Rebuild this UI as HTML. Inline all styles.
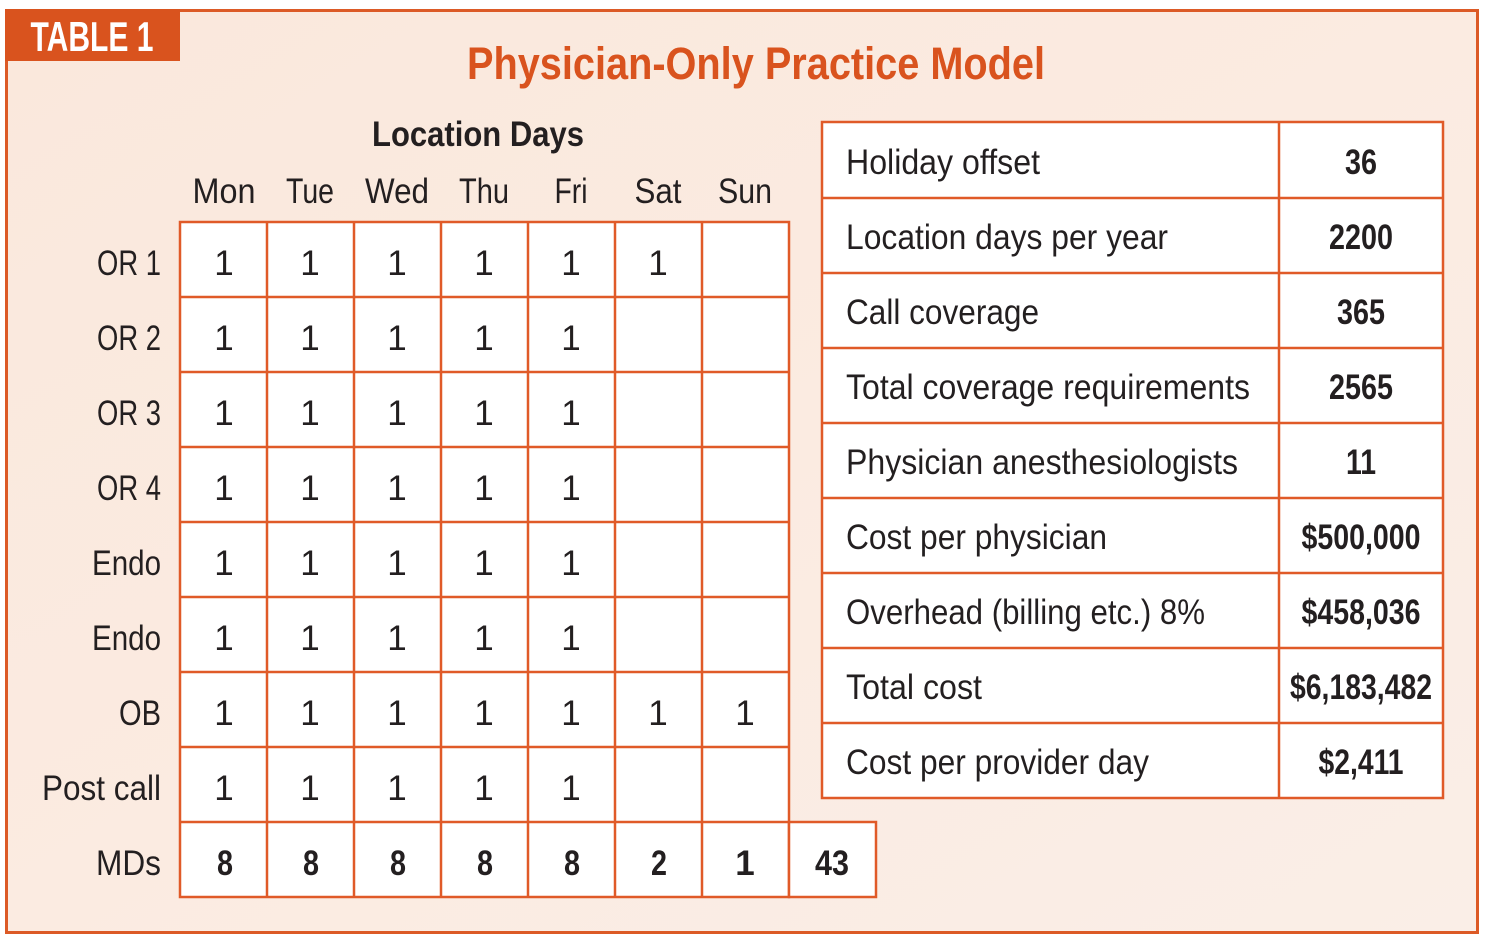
<!DOCTYPE html>
<html><head><meta charset="utf-8"><style>
html,body{margin:0;padding:0;background:#fff;}
svg{display:block;}
text{font-family:"Liberation Sans Narrow","Liberation Sans",sans-serif;fill:#231f20;}
.b{font-weight:bold;}
</style></head><body>
<svg width="1489" height="944" viewBox="0 0 1489 944" xmlns="http://www.w3.org/2000/svg">
<defs>
<linearGradient id="g" x1="0" y1="0" x2="1" y2="1">
<stop offset="0" stop-color="#fae8dc"/><stop offset="0.5" stop-color="#fbebe1"/><stop offset="1" stop-color="#faeee7"/>
</linearGradient>
</defs>
<rect x="0" y="0" width="1489" height="944" fill="#fff"/>
<rect x="6.5" y="10.5" width="1471" height="922" fill="url(#g)" stroke="#dc5a26" stroke-width="3"/>
<rect x="5" y="9" width="175" height="52" fill="#d9531e"/>
<text x="92" y="51" text-anchor="middle" class="b" font-size="42" style="fill:#fff" textLength="123" lengthAdjust="spacingAndGlyphs">TABLE 1</text>
<text x="756" y="79" text-anchor="middle" class="b" font-size="45" style="fill:#d9531e" textLength="578" lengthAdjust="spacingAndGlyphs">Physician-Only Practice Model</text>
<text x="478" y="146" text-anchor="middle" class="b" font-size="35" textLength="212" lengthAdjust="spacingAndGlyphs">Location Days</text>
<g font-size="35" text-anchor="middle">
<text x="224" y="203" textLength="63" lengthAdjust="spacingAndGlyphs">Mon</text><text x="310" y="203" textLength="48" lengthAdjust="spacingAndGlyphs">Tue</text><text x="397" y="203" textLength="64" lengthAdjust="spacingAndGlyphs">Wed</text><text x="484" y="203" textLength="50" lengthAdjust="spacingAndGlyphs">Thu</text><text x="571" y="203" textLength="33" lengthAdjust="spacingAndGlyphs">Fri</text><text x="658" y="203" textLength="47" lengthAdjust="spacingAndGlyphs">Sat</text><text x="745" y="203" textLength="54" lengthAdjust="spacingAndGlyphs">Sun</text>
</g>
<g fill="#fff" stroke="#e05a28" stroke-width="2.5">
<rect x="180" y="222" width="609" height="675"/>
<rect x="789" y="822" width="87" height="75"/>
<rect x="822" y="122" width="621" height="676"/>
</g>
<g stroke="#e05a28" stroke-width="2.5">
<line x1="267" y1="222" x2="267" y2="897"/><line x1="354" y1="222" x2="354" y2="897"/><line x1="441" y1="222" x2="441" y2="897"/><line x1="528" y1="222" x2="528" y2="897"/><line x1="615" y1="222" x2="615" y2="897"/><line x1="702" y1="222" x2="702" y2="897"/>
<line x1="180" y1="297" x2="789" y2="297"/><line x1="180" y1="372" x2="789" y2="372"/><line x1="180" y1="447" x2="789" y2="447"/><line x1="180" y1="522" x2="789" y2="522"/><line x1="180" y1="597" x2="789" y2="597"/><line x1="180" y1="672" x2="789" y2="672"/><line x1="180" y1="747" x2="789" y2="747"/><line x1="180" y1="822" x2="789" y2="822"/>
<line x1="1279" y1="122" x2="1279" y2="798"/>
<line x1="822" y1="198" x2="1443" y2="198"/><line x1="822" y1="273" x2="1443" y2="273"/><line x1="822" y1="348" x2="1443" y2="348"/><line x1="822" y1="423" x2="1443" y2="423"/><line x1="822" y1="498" x2="1443" y2="498"/><line x1="822" y1="573" x2="1443" y2="573"/><line x1="822" y1="648" x2="1443" y2="648"/><line x1="822" y1="723" x2="1443" y2="723"/>
</g>
<g font-size="35">
<text x="97" y="275" textLength="64" lengthAdjust="spacingAndGlyphs">OR 1</text>
<text x="97" y="350" textLength="64" lengthAdjust="spacingAndGlyphs">OR 2</text>
<text x="97" y="425" textLength="64" lengthAdjust="spacingAndGlyphs">OR 3</text>
<text x="97" y="500" textLength="64" lengthAdjust="spacingAndGlyphs">OR 4</text>
<text x="92" y="575" textLength="69" lengthAdjust="spacingAndGlyphs">Endo</text>
<text x="92" y="650" textLength="69" lengthAdjust="spacingAndGlyphs">Endo</text>
<text x="119" y="725" textLength="42" lengthAdjust="spacingAndGlyphs">OB</text>
<text x="42" y="800" textLength="119" lengthAdjust="spacingAndGlyphs">Post call</text>
<text x="96" y="875" textLength="65" lengthAdjust="spacingAndGlyphs">MDs</text>
</g>
<g font-size="35" text-anchor="middle">
<text x="224" y="275">1</text><text x="310" y="275">1</text><text x="397" y="275">1</text><text x="484" y="275">1</text><text x="571" y="275">1</text><text x="658" y="275">1</text>
<text x="224" y="350">1</text><text x="310" y="350">1</text><text x="397" y="350">1</text><text x="484" y="350">1</text><text x="571" y="350">1</text>
<text x="224" y="425">1</text><text x="310" y="425">1</text><text x="397" y="425">1</text><text x="484" y="425">1</text><text x="571" y="425">1</text>
<text x="224" y="500">1</text><text x="310" y="500">1</text><text x="397" y="500">1</text><text x="484" y="500">1</text><text x="571" y="500">1</text>
<text x="224" y="575">1</text><text x="310" y="575">1</text><text x="397" y="575">1</text><text x="484" y="575">1</text><text x="571" y="575">1</text>
<text x="224" y="650">1</text><text x="310" y="650">1</text><text x="397" y="650">1</text><text x="484" y="650">1</text><text x="571" y="650">1</text>
<text x="224" y="725">1</text><text x="310" y="725">1</text><text x="397" y="725">1</text><text x="484" y="725">1</text><text x="571" y="725">1</text><text x="658" y="725">1</text><text x="745" y="725">1</text>
<text x="224" y="800">1</text><text x="310" y="800">1</text><text x="397" y="800">1</text><text x="484" y="800">1</text><text x="571" y="800">1</text>
</g>
<g font-size="35" text-anchor="middle" class="b">
<text x="225" y="875" textLength="16" lengthAdjust="spacingAndGlyphs">8</text><text x="311" y="875" textLength="16" lengthAdjust="spacingAndGlyphs">8</text><text x="398" y="875" textLength="16" lengthAdjust="spacingAndGlyphs">8</text><text x="485" y="875" textLength="16" lengthAdjust="spacingAndGlyphs">8</text><text x="572" y="875" textLength="16" lengthAdjust="spacingAndGlyphs">8</text><text x="659" y="875" textLength="16" lengthAdjust="spacingAndGlyphs">2</text><text x="745" y="875">1</text><text x="832" y="875" textLength="34" lengthAdjust="spacingAndGlyphs">43</text>
</g>
<g font-size="35">
<text x="846" y="174" textLength="194" lengthAdjust="spacingAndGlyphs">Holiday offset</text>
<text x="846" y="249" textLength="322" lengthAdjust="spacingAndGlyphs">Location days per year</text>
<text x="846" y="324" textLength="193" lengthAdjust="spacingAndGlyphs">Call coverage</text>
<text x="846" y="399" textLength="404" lengthAdjust="spacingAndGlyphs">Total coverage requirements</text>
<text x="846" y="474" textLength="392" lengthAdjust="spacingAndGlyphs">Physician anesthesiologists</text>
<text x="846" y="549" textLength="261" lengthAdjust="spacingAndGlyphs">Cost per physician</text>
<text x="846" y="624" textLength="359" lengthAdjust="spacingAndGlyphs">Overhead (billing etc.) 8%</text>
<text x="846" y="699" textLength="136" lengthAdjust="spacingAndGlyphs">Total cost</text>
<text x="846" y="774" textLength="303" lengthAdjust="spacingAndGlyphs">Cost per provider day</text>
</g>
<g font-size="35" class="b" text-anchor="middle">
<text x="1361" y="174" textLength="32" lengthAdjust="spacingAndGlyphs">36</text>
<text x="1361" y="249" textLength="64" lengthAdjust="spacingAndGlyphs">2200</text>
<text x="1361" y="324" textLength="48" lengthAdjust="spacingAndGlyphs">365</text>
<text x="1361" y="399" textLength="64" lengthAdjust="spacingAndGlyphs">2565</text>
<text x="1361" y="474" textLength="30" lengthAdjust="spacingAndGlyphs">11</text>
<text x="1361" y="549" textLength="119" lengthAdjust="spacingAndGlyphs">$500,000</text>
<text x="1361" y="624" textLength="119" lengthAdjust="spacingAndGlyphs">$458,036</text>
<text x="1361" y="699" textLength="142" lengthAdjust="spacingAndGlyphs">$6,183,482</text>
<text x="1361" y="774" textLength="85" lengthAdjust="spacingAndGlyphs">$2,411</text>
</g>
</svg>
</body></html>
